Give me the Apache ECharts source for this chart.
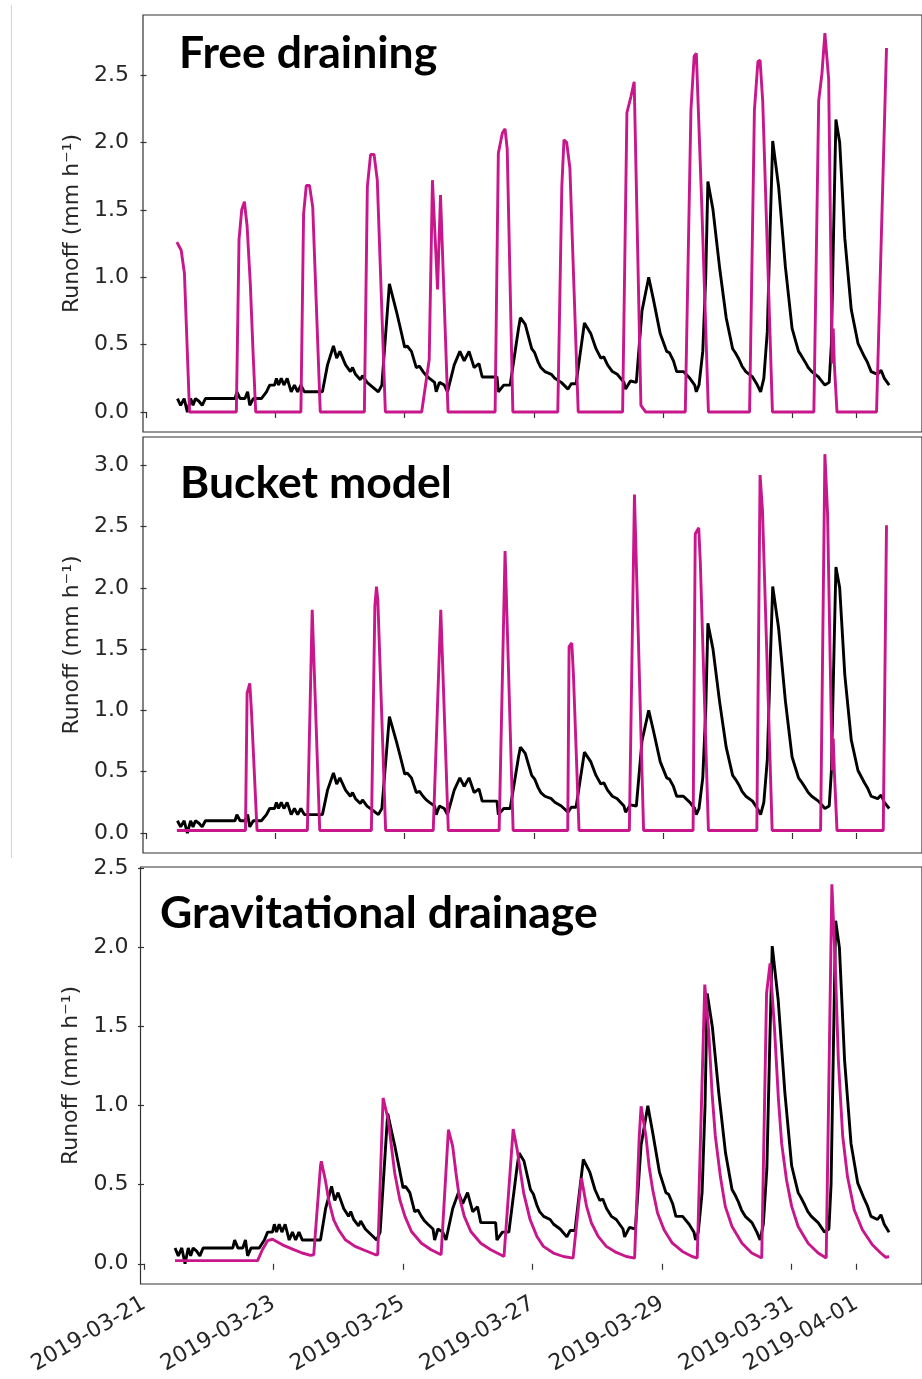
<!DOCTYPE html>
<html>
<head>
<meta charset="utf-8">
<script src="https://cdn.jsdelivr.net/npm/echarts@6/dist/echarts.min.js"></script>
<style>
html,body{margin:0;padding:0;background:#fff;overflow:hidden}
#chart{width:922px;height:1379px}
</style>
</head>
<body>
<div id="chart"></div>
<script>
// ---------- DATA (hours since 2019-03-21 00:00, runoff in mm/h) ----------
const obsHours = [11.5,12.7,14.0,15.2,16.4,17.3,18.2,19.5,20.7,21.9,32.9,33.6,34.8,36.6,37.6,38.4,39.7,42.7,44.6,45.8,47.6,48.3,49.1,50.1,51.1,52.3,53.8,55.0,56.2,57.4,58.7,65.4,67.3,69.5,70.7,71.9,74.0,75.8,76.6,77.7,79.5,80.3,82.0,84.4,86.2,87.5,90.3,93.0,94.4,96.0,96.9,98.5,100.3,101.5,102.8,104.0,105.2,107.1,107.7,108.9,110.7,111.9,114.4,116.5,118.1,119.9,121.8,123.6,124.8,130.3,130.8,132.8,135.2,138.3,139.0,140.8,143.2,144.3,145.6,146.6,148.1,150.5,151.8,154.2,156.7,157.9,159.7,161.0,162.8,165.2,167.1,168.9,170.0,171.4,173.2,175.0,177.5,178.1,179.9,182.1,184.2,186.7,188.5,191.0,193.4,194.4,195.9,197.1,199.6,202.0,203.8,204.4,205.4,206.8,207.9,208.7,210.6,213.0,215.5,217.9,218.9,220.3,221.4,222.8,225.3,227.1,228.3,229.5,230.8,231.9,232.8,235.0,237.5,240.0,242.4,243.4,244.9,246.0,247.3,249.8,251.0,252.2,253.8,254.6,255.6,256.3,257.7,259.6,262.0,264.5,266.9,268.0,269.4,271.8,273.1,274.3,276.1];
const obsRunoff = [0.10,0.05,0.10,0.00,0.10,0.05,0.10,0.08,0.05,0.10,0.10,0.15,0.10,0.10,0.15,0.05,0.10,0.10,0.15,0.20,0.20,0.25,0.20,0.25,0.20,0.25,0.15,0.20,0.15,0.20,0.15,0.15,0.35,0.49,0.40,0.45,0.35,0.30,0.33,0.28,0.24,0.27,0.22,0.18,0.15,0.20,0.95,0.74,0.62,0.48,0.49,0.45,0.33,0.34,0.30,0.27,0.25,0.22,0.15,0.22,0.20,0.15,0.35,0.45,0.38,0.45,0.33,0.36,0.26,0.26,0.15,0.20,0.20,0.62,0.70,0.65,0.47,0.44,0.37,0.33,0.30,0.28,0.25,0.22,0.17,0.21,0.21,0.40,0.66,0.58,0.47,0.40,0.41,0.35,0.30,0.28,0.22,0.17,0.23,0.22,0.75,1.00,0.83,0.58,0.45,0.44,0.38,0.30,0.30,0.25,0.20,0.15,0.20,0.45,1.00,1.71,1.50,1.08,0.70,0.47,0.44,0.39,0.34,0.30,0.26,0.20,0.15,0.25,0.60,1.40,2.01,1.67,1.08,0.62,0.45,0.42,0.37,0.33,0.30,0.26,0.23,0.20,0.22,0.50,1.50,2.17,2.00,1.29,0.76,0.51,0.41,0.37,0.30,0.28,0.31,0.25,0.20];

const freeHours = [11.3,12.9,14.1,16.0,33.4,34.4,35.4,36.4,37.4,38.6,39.6,40.6,57.4,58.4,59.4,60.6,61.8,64.6,81.0,82.1,83.3,84.6,85.8,88.8,102.3,105.1,106.3,108.2,109.3,112.1,129.6,130.8,132.3,133.3,134.1,136.2,152.9,154.4,155.2,156.2,157.4,160.5,177.0,178.6,180.1,181.3,183.8,185.6,200.3,202.4,203.6,204.4,206.4,208.9,224.2,226.0,227.3,228.1,229.1,232.7,248.1,249.9,251.1,252.2,253.6,254.9,255.3,255.7,256.7,271.4,275.1];
const freeRunoff = [1.26,1.20,1.03,0.00,0.00,1.28,1.50,1.56,1.38,0.95,0.45,0.00,0.00,1.47,1.68,1.68,1.52,0.00,0.00,1.67,1.91,1.91,1.72,0.00,0.00,0.39,1.72,0.91,1.61,0.00,0.00,1.92,2.07,2.10,1.95,0.00,0.00,1.67,2.02,2.00,1.81,0.00,0.00,2.22,2.34,2.45,0.05,0.00,0.00,2.24,2.64,2.66,1.55,0.00,0.00,2.24,2.60,2.61,2.30,0.00,0.00,2.31,2.51,2.81,2.47,0.36,0.62,0.36,0.00,0.00,2.70];

const bucketHours = [11.3,36.8,37.4,38.4,39.0,41.1,59.8,61.6,64.4,83.6,84.9,85.5,86.0,88.9,106.6,109.4,112.2,131.1,133.3,136.3,156.6,157.1,158.1,158.7,160.8,179.5,181.4,184.8,203.2,204.0,205.3,205.9,208.9,226.9,228.1,229.0,232.6,250.6,252.2,253.2,254.9,255.3,255.7,256.7,273.9,275.1];
const bucketRunoff = [0.02,0.02,1.14,1.22,1.00,0.02,0.02,1.82,0.02,0.02,1.85,2.01,1.90,0.02,0.02,1.82,0.02,0.02,2.30,0.02,0.02,1.52,1.55,1.30,0.02,0.02,2.76,0.02,0.02,2.44,2.49,2.20,0.02,0.02,2.92,2.63,0.02,0.02,3.09,2.60,0.51,0.77,0.51,0.02,0.02,2.51];

const gravHours = [11.5,42.1,43.9,45.8,47.6,51.3,55.0,58.6,61.7,62.9,65.4,65.7,67.2,68.4,70.3,72.1,74.6,78.2,81.9,85.8,86.6,88.6,90.5,91.7,92.9,94.8,96.7,99.1,102.8,106.4,110.1,110.7,112.8,114.4,115.6,116.8,118.7,121.1,124.8,128.5,133.4,134.0,136.8,138.3,140.7,143.1,145.6,148.0,151.7,155.4,159.0,159.3,162.1,164.0,165.8,168.3,171.3,175.0,178.7,181.8,182.0,183.5,184.2,186.0,187.2,188.5,190.3,192.7,195.8,199.5,203.1,205.0,205.3,207.8,209.3,210.5,211.7,213.6,215.4,217.9,221.6,225.2,228.9,229.2,230.7,232.0,233.6,235.1,236.3,238.1,240.0,242.4,246.1,249.8,252.8,253.1,254.9,256.1,257.3,258.9,260.7,263.2,266.2,269.9,273.0,274.9,276.1];
const gravRunoff = [0.02,0.02,0.09,0.146,0.155,0.12,0.093,0.068,0.053,0.057,0.62,0.648,0.53,0.405,0.278,0.215,0.152,0.11,0.084,0.057,0.057,1.049,0.91,0.742,0.574,0.405,0.30,0.204,0.13,0.089,0.057,0.057,0.848,0.742,0.574,0.426,0.30,0.204,0.13,0.089,0.046,0.046,0.852,0.72,0.447,0.278,0.173,0.11,0.068,0.046,0.036,0.036,0.542,0.363,0.258,0.173,0.11,0.072,0.046,0.036,0.04,0.80,0.996,0.806,0.612,0.469,0.321,0.215,0.13,0.078,0.046,0.036,0.04,1.766,1.46,1.08,0.81,0.55,0.363,0.236,0.13,0.068,0.036,0.04,1.71,1.90,1.50,1.04,0.76,0.53,0.363,0.236,0.13,0.068,0.036,0.04,2.40,1.92,1.29,0.81,0.55,0.34,0.215,0.12,0.068,0.04,0.046];

const panelTitles = ['Free draining', 'Bucket model', 'Gravitational drainage'];
const dateTickLabels = ['2019-03-21','2019-03-23','2019-03-25','2019-03-27','2019-03-29','2019-03-31','2019-04-01'];
const yTicksFree = [0, 0.5, 1.0, 1.5, 2.0, 2.5];
const yTicksBucket = [0, 0.5, 1.0, 1.5, 2.0, 2.5, 3.0];
const yTicksGrav = [0, 0.5, 1.0, 1.5, 2.0, 2.5];
const yLabel = 'Runoff (mm h\u207B\u00B9)';

// ---------- BUILD ----------
const START = new Date(2019, 2, 21, 0, 0, 0).getTime();
const HOUR = 3600000;
const pairs = (hours, vals) => hours.map((h, i) => [h, vals[i]]);
const tickHours = dateTickLabels.map(s => {
  const p = s.split('-').map(Number);
  return Math.round((new Date(p[0], p[1] - 1, p[2]).getTime() - START) / HOUR);
});
const hourToDate = h => {
  const d = new Date(START + h * HOUR);
  const pad = n => String(n).padStart(2, '0');
  return d.getFullYear() + '-' + pad(d.getMonth() + 1) + '-' + pad(d.getDate());
};
const xMin = -1.3, xMax = 288.3;

const MAGENTA = '#c8168b';
const AXIS_TEXT = '#262626';
const FONT = 'DejaVu Sans';

const grids = [
  {left: 143, top: 15, width: 787, height: 417},
  {left: 143, top: 437, width: 787, height: 416},
  {left: 140.5, top: 867, width: 788, height: 417}
];
const yLimits = [[-0.148, 2.945], [-0.163, 3.23], [-0.128, 2.51]];
const yTicks = [yTicksFree, yTicksBucket, yTicksGrav];
const models = [[freeHours, freeRunoff], [bucketHours, bucketRunoff], [gravHours, gravRunoff]];
const titleTops = [31, 461, 891];
const titleLefts = [179, 180, 160];

const option = {
  animation: false,
  backgroundColor: '#fff',
  title: panelTitles.map((t, i) => ({
    text: t, left: titleLefts[i], top: titleTops[i], padding: 0,
    textStyle: {fontFamily: 'Lato', fontWeight: 'bold', fontSize: 44.5, color: '#000'}
  })),
  grid: grids.map(g => Object.assign({show: true, borderColor: '#333', borderWidth: 1.2, backgroundColor: 'transparent'}, g)),
  xAxis: grids.map((g, i) => ({
    type: 'value', gridIndex: i, min: xMin, max: xMax,
    axisLine: {show: false},
    splitLine: {show: false},
    axisTick: {show: true, customValues: tickHours, length: 6, lineStyle: {color: '#333', width: 1.2}},
    axisLabel: {
      show: i === 2, customValues: tickHours, rotate: 30, margin: 18,
      fontFamily: FONT, fontSize: 22, color: AXIS_TEXT,
      formatter: v => hourToDate(v)
    }
  })),
  yAxis: grids.map((g, i) => ({
    type: 'value', gridIndex: i, min: yLimits[i][0], max: yLimits[i][1],
    name: yLabel, nameLocation: 'middle', nameGap: 55,
    nameTextStyle: {fontFamily: FONT, fontSize: 22, color: AXIS_TEXT},
    axisLine: {show: false},
    splitLine: {show: false},
    axisTick: {show: true, customValues: yTicks[i], length: 6, lineStyle: {color: '#333', width: 1.2}},
    axisLabel: {
      customValues: yTicks[i], margin: i === 2 ? 12 : 14,
      fontFamily: FONT, fontSize: 22, color: AXIS_TEXT,
      formatter: v => Number(v).toFixed(1)
    }
  })),
  series: [],
  graphic: [{
    type: 'line', shape: {x1: 11.5, y1: 5, x2: 11.5, y2: 858},
    style: {stroke: '#d4d4d4', lineWidth: 1}, silent: true
  }]
};

for (let i = 0; i < 3; i++) {
  option.series.push({
    type: 'line', xAxisIndex: i, yAxisIndex: i, showSymbol: false, symbol: 'none',
    data: pairs(obsHours, obsRunoff),
    lineStyle: {color: '#000', width: 2.9}, z: 2
  });
  option.series.push({
    type: 'line', xAxisIndex: i, yAxisIndex: i, showSymbol: false, symbol: 'none',
    data: pairs(models[i][0], models[i][1]),
    lineStyle: {color: MAGENTA, width: 2.9}, z: 3
  });
}

const chart = echarts.init(document.getElementById('chart'), null, {renderer: 'canvas'});
chart.setOption(option);
</script>
</body>
</html>
